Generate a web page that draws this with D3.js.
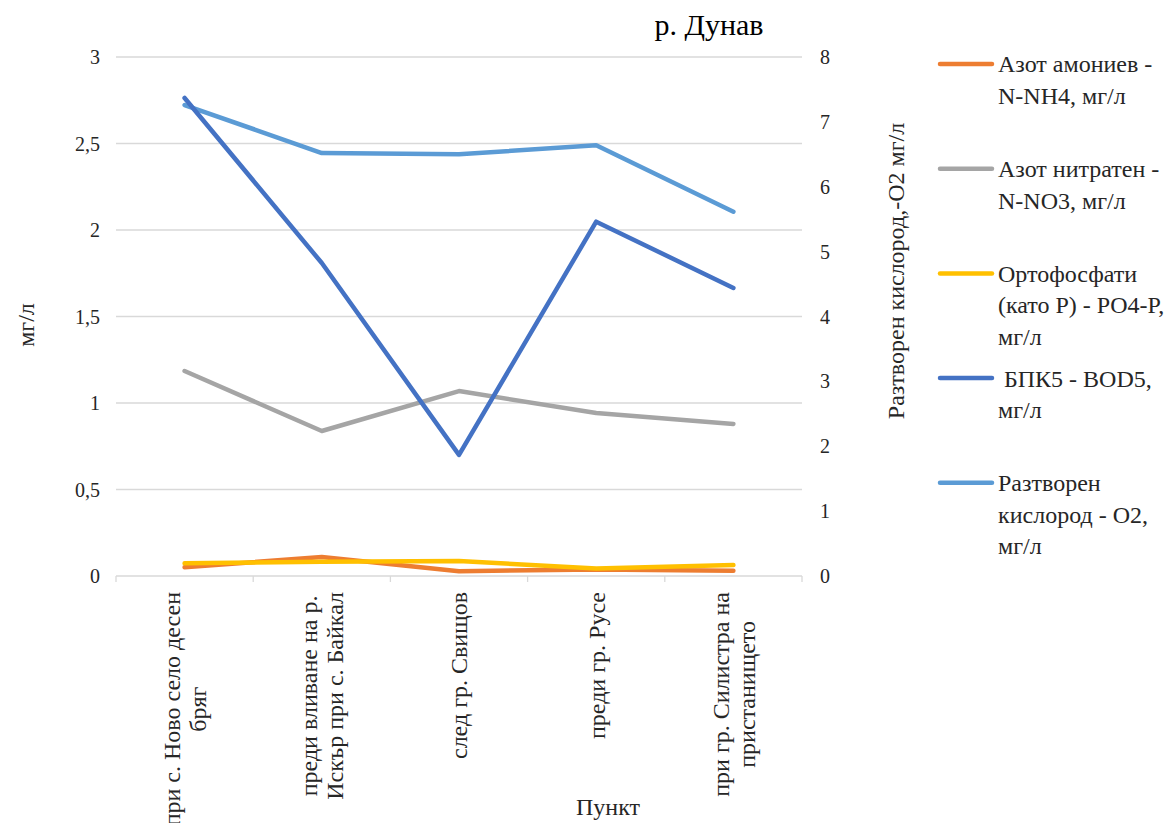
<!DOCTYPE html>
<html><head><meta charset="utf-8">
<script src="https://cdn.jsdelivr.net/npm/d3@7"></script>
<style>body{margin:0;background:#fff}svg{display:block;font-family:"Liberation Serif","Times New Roman",serif}</style>
</head><body><svg id="c" width="1176" height="823"></svg>
<script>
const categories = [
  ["при с. Ново село десен", "бряг"],
  ["преди вливане на р.", "Искър при с. Байкал"],
  ["след гр. Свищов"],
  ["преди гр. Русе"],
  ["при гр. Силистра на", "пристанището"]
];
const nh4  = [0.05, 0.11, 0.028, 0.038, 0.03];
const no3  = [1.185, 0.838, 1.069, 0.942, 0.879];
const po4  = [0.073, 0.083, 0.087, 0.043, 0.063];
const bod5 = [2.763, 1.809, 0.70, 2.048, 1.665];
const o2   = [7.26, 6.52, 6.50, 6.64, 5.615];
const leftTicks = [0, 0.5, 1, 1.5, 2, 2.5, 3];
const rightTicks = [0, 1, 2, 3, 4, 5, 6, 7, 8];
const seriesNames = [
  ["Азот амониев -", "N-NH4, мг/л"],
  ["Азот нитратен -", "N-NO3, мг/л"],
  ["Ортофосфати", "(като P) - PO4-P,", "мг/л"],
  [" БПК5 - BOD5,", "мг/л"],
  ["Разтворен", "кислород - O2,", "мг/л"]
];
const colors = ["#ED7D31", "#A5A5A5", "#FFC000", "#4472C4", "#5B9BD5"];
const title = "р. Дунав";
const leftTitle = "мг/л";
const rightTitle = "Разтворен кислород,-O2 мг/л";
const xTitle = "Пункт";

const svg = d3.select("#c");
const L = 116, R = 802, T = 57, B = 576;
const FS = 24, TICKFS = 20;
const x = d3.scaleBand().domain(d3.range(categories.length)).range([L, R]);
const yL = d3.scaleLinear().domain([0, 3]).range([B, T]);
const yR = d3.scaleLinear().domain([0, 8]).range([B, T]);

// gridlines
svg.append("g").selectAll("line").data(leftTicks.filter(d => d > 0)).join("line")
  .attr("x1", L).attr("x2", R).attr("y1", d => yL(d)).attr("y2", d => yL(d))
  .attr("stroke", "#d9d9d9").attr("stroke-width", 1.3);

// x axis line + ticks
svg.append("line").attr("x1", L).attr("x2", R).attr("y1", B).attr("y2", B)
  .attr("stroke", "#d9d9d9").attr("stroke-width", 1.3);
const bounds = d3.range(categories.length + 1).map(i => i < categories.length ? x(i) : R);
svg.append("g").selectAll("line").data(bounds).join("line")
  .attr("x1", d => d).attr("x2", d => d).attr("y1", B).attr("y2", B + 6)
  .attr("stroke", "#d9d9d9").attr("stroke-width", 1.3);

// left tick labels
svg.append("g").selectAll("text").data(leftTicks).join("text")
  .attr("x", 100).attr("y", d => yL(d)).attr("dy", "0.35em")
  .attr("text-anchor", "end").attr("font-size", TICKFS).attr("fill", "#262626")
  .text(d => String(d).replace(".", ","));
// right tick labels
svg.append("g").selectAll("text").data(rightTicks).join("text")
  .attr("x", 820).attr("y", d => yR(d)).attr("dy", "0.35em")
  .attr("text-anchor", "start").attr("font-size", TICKFS).attr("fill", "#262626")
  .text(d => d);

// category labels
const cx = i => x(i) + x.bandwidth() / 2;
categories.forEach((lines, i) => {
  const g = svg.append("g").attr("transform", `translate(${cx(i)},592) rotate(-90)`);
  const ts = lines.map((t, j) => g.append("text").attr("font-size", FS).attr("fill", "#262626")
    .attr("text-anchor", "middle").attr("y", (j - (lines.length - 1) / 2) * 26).attr("dy", "0.35em").text(t));
  const maxL = d3.max(ts, t => t.node().getComputedTextLength());
  ts.forEach(t => t.attr("x", -maxL / 2));
});

// lines
const line = (scale) => d3.line().x((d, i) => cx(i)).y(d => scale(d));
const series = [[nh4, yL], [no3, yL], [po4, yL], [bod5, yL], [o2, yR]];
const order = [1, 4, 3, 0, 2];
order.forEach(k => {
  svg.append("path").datum(series[k][0]).attr("d", line(series[k][1]))
    .attr("fill", "none").attr("stroke", colors[k]).attr("stroke-width", 4.5)
    .attr("stroke-linecap", "round").attr("stroke-linejoin", "round");
});

// titles
svg.append("text").attr("x", 709).attr("y", 35).attr("text-anchor", "middle")
  .attr("font-size", 30).attr("fill", "#000").text(title);
svg.append("text").attr("transform", "translate(26,325) rotate(-90)").attr("text-anchor", "middle")
  .attr("dy", "0.35em").attr("font-size", FS).attr("fill", "#262626").text(leftTitle);
svg.append("text").attr("transform", "translate(896,271) rotate(-90)").attr("text-anchor", "middle")
  .attr("dy", "0.35em").attr("font-size", FS).attr("fill", "#262626").text(rightTitle);
svg.append("text").attr("x", 608).attr("y", 815).attr("text-anchor", "middle")
  .attr("font-size", FS).attr("fill", "#262626").text(xTitle);

// legend
seriesNames.forEach((lines, k) => {
  const ly = 64 + k * 104.7;
  svg.append("line").attr("x1", 940).attr("x2", 992).attr("y1", ly).attr("y2", ly)
    .attr("stroke", colors[k]).attr("stroke-width", 4.5).attr("stroke-linecap", "round");
  lines.forEach((t, j) => {
    svg.append("text").attr("x", 998).attr("y", ly + j * 31.5).attr("dy", "0.35em")
      .attr("font-size", FS).attr("fill", "#262626").style("white-space", "pre").text(t);
  });
});
</script></body></html>
